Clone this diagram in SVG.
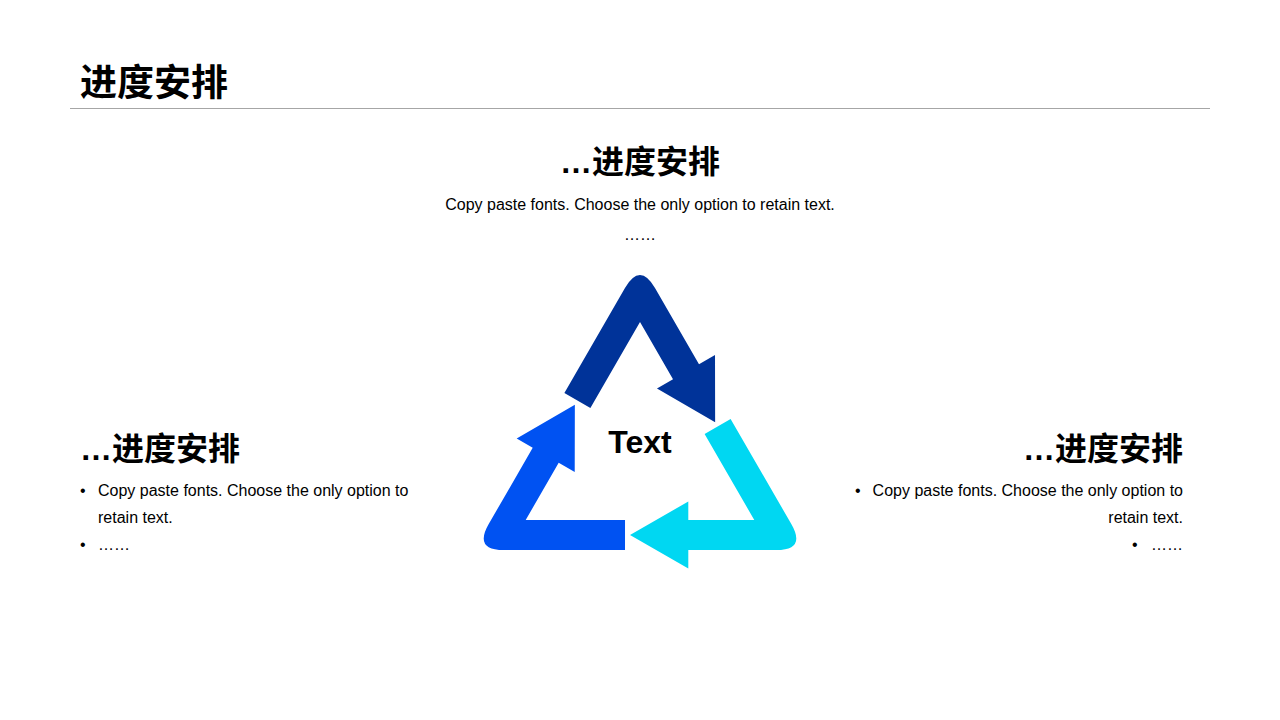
<svg xmlns="http://www.w3.org/2000/svg" xmlns:xlink="http://www.w3.org/1999/xlink" width="1280" height="720" viewBox="0 0 1280 720">
<style>
.t{font-family:"Liberation Sans","Noto Sans CJK SC",sans-serif;fill:#000}
.h1{font-size:37px;font-weight:bold}
.h2{font-size:32px;font-weight:bold}
.b{font-size:16px}
.c{font-size:32px;font-weight:bold}
</style>
<defs>
<path id="arrow" d="M730.6 419 L791.3 524 Q806.3 550 776.3 550 L688.3 550 L688.3 568.5 L630 535 L688.3 501.5 L688.3 520 L754.3 520 L704.6 434 Z"/>
</defs>
<rect width="1280" height="720" fill="#fff"/>
<g id="title">
<text class="t h1" x="80" y="96">进度安排</text>
<line x1="70" y1="108.5" x2="1210" y2="108.5" stroke="#A6A6A6" stroke-width="1"/>
</g>
<g id="cycle">
<g id="arrow-top"><use xlink:href="#arrow" fill="#003399" transform="rotate(240 640 454)"/></g>
<g id="arrow-right"><use xlink:href="#arrow" fill="#00D7F2"/></g>
<g id="arrow-left"><use xlink:href="#arrow" fill="#0052F2" transform="rotate(120 640 454)"/></g>
<g id="center"><text class="t c" x="640" y="453" text-anchor="middle">Text</text></g>
</g>
<g id="top-block">
<text class="t h2" x="640" y="173" text-anchor="middle">…进度安排</text>
<text class="t b" x="640" y="210" text-anchor="middle">Copy paste fonts. Choose the only option to retain text.</text>
<text class="t b" x="640" y="240" text-anchor="middle">……</text>
</g>
<g id="left-block">
<text class="t h2" x="80" y="460">…进度安排</text>
<text class="t b" x="80" y="496">•</text>
<text class="t b" x="98" y="496">Copy paste fonts. Choose the only option to</text>
<text class="t b" x="98" y="523">retain text.</text>
<text class="t b" x="80" y="550">•</text>
<text class="t b" x="98" y="550">……</text>
</g>
<g id="right-block">
<text class="t h2" x="1183" y="460" text-anchor="end">…进度安排</text>
<text class="t b" x="855" y="496">•</text>
<text class="t b" x="1183" y="496" text-anchor="end">Copy paste fonts. Choose the only option to</text>
<text class="t b" x="1183" y="523" text-anchor="end">retain text.</text>
<text class="t b" x="1132" y="550">•</text>
<text class="t b" x="1183" y="550" text-anchor="end">……</text>
</g>
</svg>
